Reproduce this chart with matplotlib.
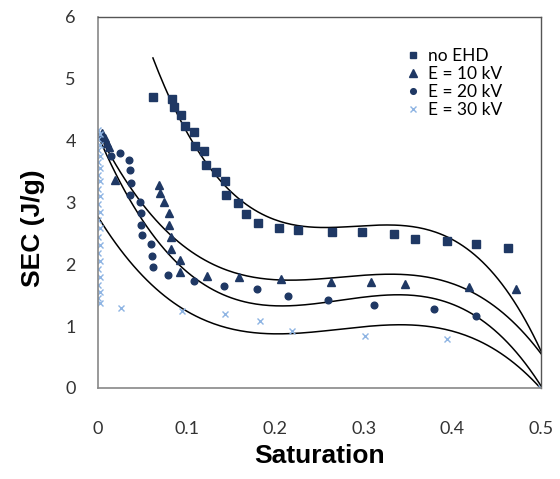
import numpy as np
import matplotlib
matplotlib.use("Agg")
import matplotlib.pyplot as plt

# data
no_ehd_x = [0.062, 0.084, 0.086, 0.094, 0.098, 0.108, 0.110, 0.120, 0.122, 0.133, 0.143,
            0.145, 0.158, 0.167, 0.181, 0.204, 0.226, 0.264, 0.298, 0.334, 0.358, 0.394,
            0.427, 0.463]
no_ehd_y = [4.70, 4.67, 4.54, 4.42, 4.24, 4.14, 3.91, 3.83, 3.60, 3.49, 3.35,
            3.12, 2.99, 2.82, 2.67, 2.58, 2.56, 2.53, 2.53, 2.49, 2.41, 2.38,
            2.33, 2.27]

e10_x = [0.005, 0.008, 0.010, 0.012, 0.019, 0.069, 0.070, 0.075, 0.080, 0.080, 0.082,
         0.082, 0.092, 0.092, 0.123, 0.159, 0.207, 0.263, 0.308, 0.346, 0.419, 0.472]
e10_y = [4.12, 4.05, 3.97, 3.90, 3.37, 3.28, 3.16, 3.00, 2.83, 2.64, 2.44,
         2.24, 2.07, 1.87, 1.81, 1.79, 1.77, 1.72, 1.72, 1.69, 1.63, 1.60]

e20_x = [0.005, 0.015, 0.025, 0.035, 0.036, 0.037, 0.036, 0.047, 0.048, 0.049, 0.050,
         0.060, 0.061, 0.062, 0.079, 0.108, 0.142, 0.179, 0.215, 0.260, 0.311, 0.379,
         0.427]
e20_y = [4.05, 3.75, 3.80, 3.69, 3.52, 3.32, 3.12, 3.00, 2.83, 2.64, 2.47,
         2.33, 2.14, 1.95, 1.82, 1.73, 1.65, 1.60, 1.48, 1.42, 1.34, 1.28,
         1.17]

e30_x = [0.0, 0.002, 0.0, 0.002, 0.0, 0.002, 0.0, 0.002, 0.0, 0.002, 0.0, 0.002, 0.0,
         0.002, 0.0, 0.002, 0.0, 0.002, 0.0, 0.002, 0.0, 0.002, 0.0, 0.002, 0.0, 0.002,
         0.026, 0.095, 0.143, 0.183, 0.219, 0.301, 0.394, 0.5]
e30_y = [4.18, 4.10, 4.02, 3.93, 3.85, 3.76, 3.66, 3.55, 3.45, 3.34, 3.22, 3.10, 2.98,
         2.85, 2.72, 2.58, 2.45, 2.32, 2.19, 2.05, 1.92, 1.80, 1.67, 1.55, 1.45, 1.38,
         1.29, 1.25, 1.20, 1.08, 0.92, 0.84, 0.80, 0.0]

# trendlines (polynomial, as in the reference) read at some points along each curve
tr_noehd_x = [0.062, 0.081, 0.108, 0.134, 0.164, 0.183, 0.205, 0.264, 0.300, 0.333, 0.394, 0.427, 0.465, 0.5]
tr_noehd_y = [5.26, 4.71, 4.01, 3.47, 3.04, 2.83, 2.60, 2.57, 2.62, 2.65, 2.42, 2.15, 1.59, 0.53]
tr_e10_x = [0.0, 0.081, 0.0925, 0.126, 0.168, 0.205, 0.239, 0.264, 0.311, 0.356, 0.394, 0.431, 0.469, 0.5]
tr_e10_y = [4.12, 2.56, 2.34, 1.99, 1.79, 1.74, 1.75, 1.79, 1.84, 1.83, 1.72, 1.48, 1.05, 0.56]
tr_e20_x = [0.0, 0.051, 0.081, 0.089, 0.126, 0.168, 0.205, 0.239, 0.262, 0.318, 0.363, 0.416, 0.469, 0.5]
tr_e20_y = [4.05, 2.77, 2.18, 1.96, 1.61, 1.40, 1.33, 1.33, 1.40, 1.49, 1.48, 1.26, 0.67, 0.0]
tr_e30_x = [0.0, 0.032, 0.070, 0.108, 0.145, 0.175, 0.205, 0.262, 0.318, 0.363, 0.431, 0.5]
tr_e30_y = [2.78, 2.07, 1.59, 1.21, 0.97, 0.86, 0.85, 0.95, 1.04, 1.02, 0.72, 0.0]

labels = ["no EHD", "E = 10 kV", "E = 20 kV", "E = 30 kV"]

navy = "#1f3864"
light = "#8eb4e3"

fig = plt.figure(figsize=(5.6, 4.79), dpi=100)
ax = fig.add_axes([98 / 560, 1 - 388 / 479, (541 - 98) / 560, (388 - 17) / 479])

ax.plot(no_ehd_x, no_ehd_y, "s", color=navy, ms=5.3, ls="none", label=labels[0])
ax.plot(e10_x, e10_y, "^", color=navy, ms=6.3, ls="none", label=labels[1])
ax.plot(e20_x, e20_y, "o", color=navy, ms=4.8, ls="none", label=labels[2])
ax.plot(e30_x, e30_y, "x", color=light, ms=5.0, mew=1.0, ls="none", label=labels[3])

# smooth cubic through the read trendline points
for xs, ys in [(tr_noehd_x, tr_noehd_y), (tr_e10_x, tr_e10_y), (tr_e20_x, tr_e20_y), (tr_e30_x, tr_e30_y)]:
    c = np.polyfit(xs, ys, 3)
    xx = np.linspace(min(xs), max(xs), 200)
    ax.plot(xx, np.polyval(c, xx), color="black", lw=1.1, zorder=1)

ax.set_xlim(0, 0.5)
ax.set_ylim(0, 6)
ax.set_xticks([0, 0.1, 0.2, 0.3, 0.4, 0.5])
ax.set_xticklabels(["0", "0.1", "0.2", "0.3", "0.4", "0.5"])
ax.set_yticks([0, 1, 2, 3, 4, 5, 6])
ax.tick_params(length=0, labelsize=13, colors="#333333")
ax.tick_params(axis="y", pad=16)
ax.tick_params(axis="x", pad=24)
for lab in ax.get_xticklabels() + ax.get_yticklabels():
    lab.set_family("Lato")

for s in ["left", "bottom"]:
    ax.spines[s].set_color("#888888")
    ax.spines[s].set_linewidth(1.2)
for s in ["top", "right"]:
    ax.spines[s].set_color("#555555")
    ax.spines[s].set_linewidth(1.0)

ax.set_xlabel("Saturation", fontsize=19, fontweight="bold", family="Liberation Sans", labelpad=5)
ax.set_ylabel("SEC (J/g)", fontsize=19, fontweight="bold", family="Liberation Sans")
ax.yaxis.set_label_coords(-0.12, 0.43)

leg = ax.legend(loc="upper left", bbox_to_anchor=(0.675, 0.94), frameon=False,
                prop={"family": "Lato", "size": 12.5}, handletextpad=0.5, borderpad=0,
                labelspacing=0.12, handlelength=0.8, markerscale=0.85)

fig.savefig("out.png", dpi=100)
